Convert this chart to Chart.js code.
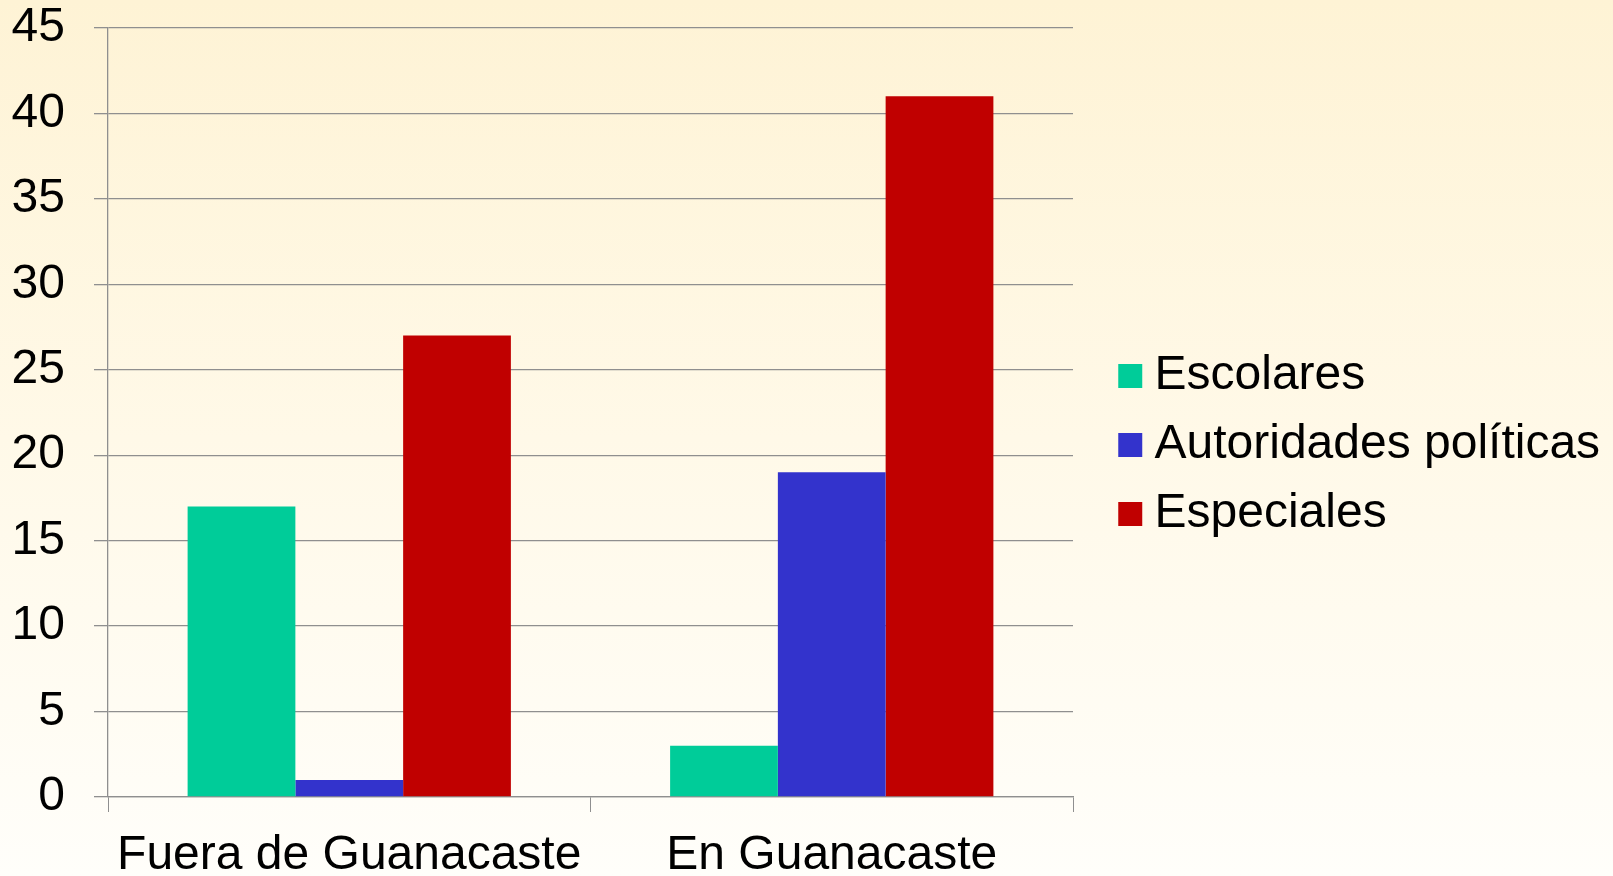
<!DOCTYPE html>
<html>
<head>
<meta charset="utf-8">
<script src="https://cdn.jsdelivr.net/npm/chart.js@4.4.1/dist/chart.umd.min.js"></script>
<style>
  html, body { margin: 0; padding: 0; }
  body {
    width: 1613px; height: 876px; overflow: hidden;
    background: linear-gradient(to bottom, #fef3d5 0%, #fff9e8 50%, #fffefa 100%);
  }
  canvas { display: block; }
</style>
</head>
<body>
<canvas id="chart" width="1613" height="876"></canvas>
<script>
// data
const categories = ['Fuera de Guanacaste', 'En Guanacaste'];
const seriesNames = ['Escolares', 'Autoridades políticas', 'Especiales'];
const escolares = [17, 3];
const autoridades = [1, 19];
const especiales = [27, 41];
const yMin = 0, yMax = 45, yStep = 5;

const colors = ['#00cc99', '#3333cc', '#c00000'];
const gridGray = '#8f8f8f';
const font = 'Liberation Sans, Arial, sans-serif';

// legend sits a little away from the plot, like the original
const legendNudge = {
  id: 'legendNudge',
  afterInit(chart) {
    const lg = chart.legend;
    const fit = lg.fit.bind(lg);
    lg.fit = function () { fit(); this.width = 540; };
  },
  afterLayout(chart) {
    const lg = chart.legend;
    lg.left += 36; lg.right += 36;
    lg.top -= 7; lg.bottom -= 7;
  }
};

new Chart(document.getElementById('chart').getContext('2d'), {
  type: 'bar',
  data: {
    labels: categories,
    datasets: [escolares, autoridades, especiales].map((vals, i) => ({
      label: seriesNames[i],
      data: vals,
      backgroundColor: colors[i],
      borderWidth: 0,
      categoryPercentage: 0.67,
      barPercentage: 1
    }))
  },
  options: {
    responsive: false,
    animation: false,
    layout: { padding: { top: 28, left: 0, right: 0, bottom: 0 } },
    plugins: {
      title: { display: false },
      tooltip: { enabled: false },
      legend: {
        position: 'right',
        labels: {
          color: '#000',
          font: { family: font, size: 48 },
          padding: 21,
          usePointStyle: true,
          pointStyle: 'rect',
          boxWidth: 0.5,
          boxHeight: 24
        }
      }
    },
    scales: {
      x: {
        offset: true,
        grid: { display: true, drawOnChartArea: false, drawTicks: true, tickLength: 15, color: gridGray, offset: true },
        border: { display: true, color: gridGray, width: 1.3 },
        ticks: { color: '#000', font: { family: font, size: 48 }, padding: 15, maxRotation: 0, autoSkip: false },
        afterFit(s) { s.height = 79; }
      },
      y: {
        min: yMin, max: yMax,
        grid: { color: gridGray, lineWidth: 1.3, tickLength: 14 },
        border: { display: true, color: gridGray, width: 1.3 },
        ticks: { stepSize: yStep, color: '#000', font: { family: font, size: 48 }, padding: 29 },
        afterFit(s) { s.width = 108; s.paddingTop = 0; s.paddingBottom = 0; }
      }
    }
  },
  plugins: [legendNudge]
});
</script>
</body>
</html>
